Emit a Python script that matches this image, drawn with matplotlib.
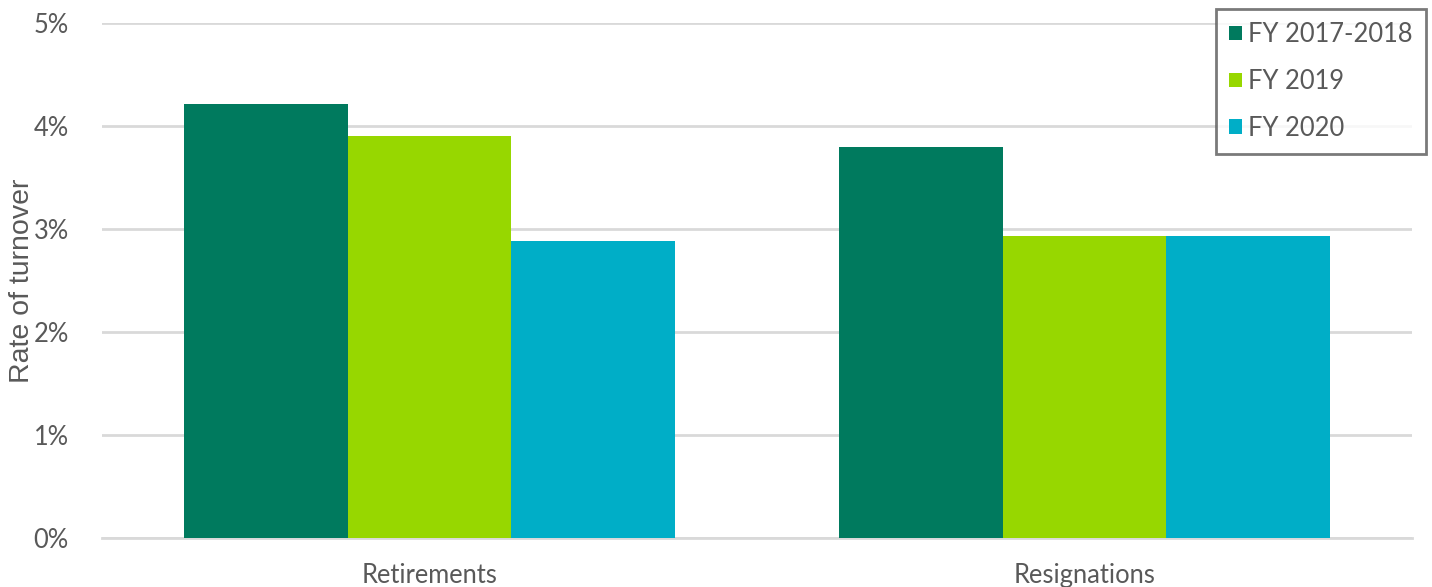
import matplotlib
matplotlib.use("Agg")
import matplotlib.pyplot as plt
import numpy as np
from matplotlib.ticker import FuncFormatter

## datos
categories = ["Retirements", "Resignations"]
series = ["FY 2017-2018", "FY 2019", "FY 2020"]
fy1718 = [4.21, 3.80]
fy2019 = [3.90, 2.93]
fy2020 = [2.88, 2.93]
colors = ["#007A5E", "#97D700", "#00AEC7"]

txt = "#595959"
grid = "#d9d9d9"

fig = plt.figure(figsize=(14.32, 5.87), dpi=100)
ax = fig.add_axes([0.0712, 0.0835, 0.9148, 0.8773])

x = np.arange(len(categories))
w = 0.25
for i, (vals, lab) in enumerate(zip([fy1718, fy2019, fy2020], series)):
    ax.bar(x + (i - 1) * w, vals, width=w, color=colors[i], label=lab, zorder=3)

ax.set_xlim(-0.5, 1.5)
ax.set_ylim(0, 5)
ax.set_yticks([0, 1, 2, 3, 4, 5])
ax.yaxis.set_major_formatter(FuncFormatter(lambda v, p: "{:.0f}%".format(v)))
ax.set_xticks(x)
ax.set_xticklabels(categories)

ax.grid(axis="y", color=grid, linewidth=2, zorder=0)
for s in ["top", "right", "left"]:
    ax.spines[s].set_visible(False)
ax.spines["bottom"].set_color(grid)
ax.spines["bottom"].set_linewidth(2)
ax.tick_params(length=0, labelsize=18.4, labelcolor=txt)
ax.tick_params(axis="y", pad=24)
ax.tick_params(axis="x", pad=18)
for t in ax.get_xticklabels() + ax.get_yticklabels():
    t.set_fontfamily("Lato")

ax.set_ylabel("Rate of turnover", fontsize=20.5, color=txt, family="Liberation Sans")
ax.yaxis.set_label_coords(-0.051, 0.50)

leg = ax.legend(loc="upper right", bbox_to_anchor=(1.0105, 1.027), prop={"family": "Lato", "size": 18.4},
                frameon=True, fancybox=False, handlelength=0.5, handleheight=0.5, handletextpad=0.25,
                labelspacing=0.86, borderpad=0.5, borderaxespad=0)
leg.get_frame().set_edgecolor("#595959")
leg.get_frame().set_linewidth(2)
for t in leg.get_texts():
    t.set_color(txt)

fig.savefig("out.png", dpi=100)
